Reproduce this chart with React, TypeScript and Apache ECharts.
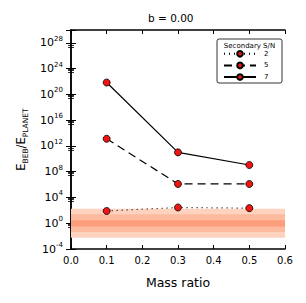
import React, { useEffect, useRef } from "react";
import * as echarts from "echarts";

const massRatio = [0.1, 0.3, 0.5];
const sn2 = [8e1, 2.8e2, 2.2e2];
const sn5 = [1.3e13, 1.25e6, 1.25e6];
const sn7 = [7e21, 1e11, 1.1e9];
const seriesNames = ["2", "5", "7"];
const bandOuter = [10 ** -2.25, 10 ** 2.25];
const bandMiddle = [10 ** -1.35, 10 ** 1.4];
const bandInner = [10 ** -0.5, 10 ** 0.45];
const xTicks = [0, 0.6, 0.1];
const yRange = [1e-4, 1e30];

const FONT = "DejaVu Sans";

export default function App() {
  const ref = useRef<HTMLDivElement>(null);
  useEffect(() => {
    document.body.style.margin = "0";
    const chart = echarts.init(ref.current!, null, { renderer: "svg" });
    const pts = (ys: number[]) => massRatio.map((x, i) => [x, ys[i]]);
    const lineSeries = (name: string, ys: number[], type: any) => ({
      name,
      type: "line",
      data: pts(ys),
      symbol: "circle",
      symbolSize: 7,
      lineStyle: { color: "#000", width: 1.2, type },
      itemStyle: { color: "#f01414", borderColor: "#000", borderWidth: 0.8 },
      z: 5,
    });
    const logFmt = (v: number) => {
      const e = Math.round(Math.log10(v));
      if (e > 28) return "";
      return "{b|10}{s|" + e + "}";
    };
    const labelRich = {
      b: { fontSize: 11, lineHeight: 15, fontFamily: FONT, color: "#000" },
      s: { fontSize: 7, lineHeight: 8, verticalAlign: "top", fontFamily: FONT, color: "#000" },
    };
    const xBase = {
      type: "value",
      min: xTicks[0],
      max: xTicks[1],
      interval: xTicks[2],
      splitLine: { show: false },
      axisLine: { lineStyle: { color: "#000", width: 1.5 } },
      axisTick: { inside: true, length: 4, lineStyle: { color: "#000", width: 1 } },
    };
    const yBase = {
      type: "log",
      logBase: 10,
      min: yRange[0],
      max: yRange[1],
      interval: 4,
      splitLine: { show: false },
      axisLine: { lineStyle: { color: "#000", width: 1.5 } },
      axisTick: { inside: true, length: 5, lineStyle: { color: "#000", width: 1 } },
      minorTick: { show: true, splitNumber: 4, length: 3, lineStyle: { color: "#000", width: 0.8 } },
    };
    const area = (b: number[], color: string) => [
      { xAxis: xTicks[0], yAxis: b[0], itemStyle: { color } },
      { xAxis: xTicks[1], yAxis: b[1] },
    ];
    chart.setOption({
      animation: false,
      grid: { left: 71, right: 21, top: 30, bottom: 54 },
      xAxis: [
        {
          ...xBase,
          position: "bottom",
          axisLabel: {
            fontSize: 10,
            fontFamily: FONT,
            color: "#000",
            margin: 6,
            formatter: (v: number) => v.toFixed(1),
          },
          name: "Mass ratio",
          nameLocation: "middle",
          nameGap: 27,
          nameTextStyle: { fontSize: 12.5, fontFamily: FONT, color: "#000" },
        },
        { ...xBase, position: "top", axisLabel: { show: false } },
      ],
      yAxis: [
        {
          ...yBase,
          position: "left",
          axisLabel: { formatter: logFmt, rich: labelRich, margin: 8 },
          name: "{b|E}{s|BEB}{b|/E}{s|PLANET}",
          nameLocation: "middle",
          nameGap: 42,
          nameRotate: 90,
          nameTextStyle: {
            rich: {
              b: { fontSize: 11.5, lineHeight: 16, fontFamily: FONT, color: "#000" },
              s: { fontSize: 7.5, lineHeight: 8, verticalAlign: "bottom", fontFamily: FONT, color: "#000" },
            },
          },
        },
        { ...yBase, position: "right", axisLabel: { show: false } },
      ],
      legend: {
        orient: "vertical",
        left: 223,
        top: 50,
        data: seriesNames,
        itemWidth: 32,
        itemHeight: 7,
        itemGap: 4,
        padding: 0,
        textStyle: { fontSize: 7, fontFamily: FONT, color: "#000", padding: [0, 0, 0, 3] },
        z: 10,
      },
      graphic: [
        {
          type: "text",
          left: 178 - 30,
          top: 12,
          style: { text: "b = 0.00", x: 0, y: 0, fontSize: 10.5, fontFamily: FONT, fill: "#000", width: 60, align: "center" },
        },
        {
          type: "rect",
          shape: { x: 217, y: 39, width: 65, height: 44, r: 2 },
          style: { fill: "#fff", stroke: "#000", lineWidth: 0.8 },
          z: 6,
        },
        {
          type: "text",
          x: 249.5,
          y: 46,
          style: {
            text: "Secondary S/N",
            fontSize: 7,
            fontFamily: FONT,
            fill: "#000",
            align: "center",
            verticalAlign: "middle",
          },
          z: 7,
        },
      ],
      series: [
        lineSeries(seriesNames[0], sn2, [1, 4]),
        lineSeries(seriesNames[1], sn5, [8, 5]),
        lineSeries(seriesNames[2], sn7, "solid"),
        {
          type: "line",
          data: [],
          silent: true,
          markArea: {
            silent: true,
            data: [
              area(bandOuter, "#fdd2bf"),
              area(bandMiddle, "#fcbb9f"),
              area(bandInner, "#fc9d7b"),
            ],
          },
          z: 1,
        },
      ],
    });
    return () => chart.dispose();
  }, []);
  return <div ref={ref} style={{ width: 306, height: 303 }} />;
}
